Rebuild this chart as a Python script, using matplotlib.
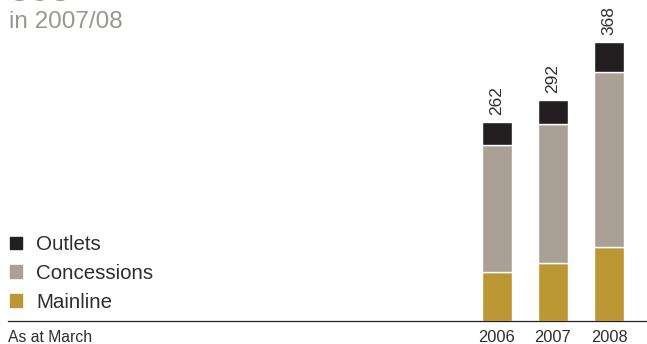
import matplotlib.pyplot as plt
from matplotlib.patches import Patch

plt.rcParams['font.family'] = ['Liberation Sans', 'DejaVu Sans']

# store counts as at March
years = ["2006", "2007", "2008"]
mainline = [65, 77, 97]
concessions = [167, 183, 231]
outlets = [30, 32, 40]
totals = [262, 292, 368]

mainlineCol = "#bb9632"
concessionCol = "#aba095"
outletCol = "#231f20"
textCol = "#2e2e2e"
titleCol = "#9d958f"

fig = plt.figure(figsize=(6.47, 3.44), dpi=100)
W, H = 647.0, 344.0

# axes spans from the baseline rule up to the top edge
base = 321.0
ax = fig.add_axes([8 / W, (H - base) / H, 1 - 8 / W, base / H])

x = list(range(len(years)))
pxPerUnit = 56.0
ax.set_xlim(0 - (497 - 8) / pxPerUnit, 0 + (647 - 497) / pxPerUnit)
ax.set_ylim(0, base / 0.758)

bw = 30 / pxPerUnit
bottom2 = [m + c for m, c in zip(mainline, concessions)]
ax.bar(x, mainline, width=bw, color=mainlineCol, edgecolor="white", linewidth=1.0)
ax.bar(x, concessions, width=bw, bottom=mainline, color=concessionCol, edgecolor="white", linewidth=1.0)
ax.bar(x, outlets, width=bw, bottom=bottom2, color=outletCol, edgecolor="white", linewidth=1.0)

for xi, t in zip(x, totals):
    ax.annotate(str(t), (xi, t), xytext=(0, 5), textcoords="offset points",
                rotation=90, ha="center", va="bottom", fontsize=12.5, color=textCol)

for s in ["top", "right", "left"]:
    ax.spines[s].set_visible(False)
ax.spines["bottom"].set_color("#222222")
ax.spines["bottom"].set_linewidth(0.9)
ax.set_xticks([])
ax.set_yticks([])
ax.patch.set_alpha(0)

# year labels under the rule
for xi, yr in zip(x, years):
    ax.text(xi, -9 / 0.758, yr, ha="center", va="top", fontsize=11.8, color=textCol)
fig.text(8 / W, 1 - 330 / H, "As at March", ha="left", va="top", fontsize=11.3, color=textCol)

handles = [Patch(color=outletCol, label="Outlets"),
           Patch(color=concessionCol, label="Concessions"),
           Patch(color=mainlineCol, label="Mainline")]
leg = fig.legend(handles=handles, loc="upper left", bbox_to_anchor=(4 / W, 1 - 229 / H),
                 frameon=False, fontsize=14.8, handlelength=0.57, handleheight=0.57,
                 handletextpad=0.7, labelspacing=0.48, borderaxespad=0, borderpad=0.3)
for t in leg.get_texts():
    t.set_color(textCol)

# heading, partly above the top edge
fig.text(9 / W, 1 - 1.2 / H, "368", ha="left", va="baseline", fontsize=27, color=titleCol)
fig.text(9 / W, 1 - 28 / H, "in 2007/08", ha="left", va="baseline", fontsize=17.5, color=titleCol)

fig.savefig("out.png", dpi=100)
